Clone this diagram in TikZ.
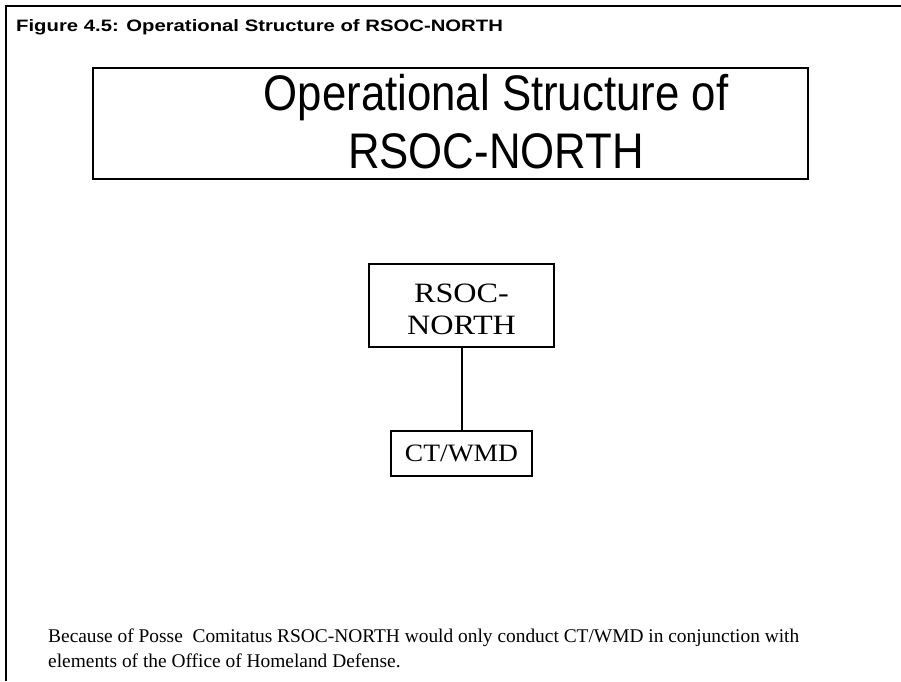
\documentclass[tikz,border=0pt]{standalone}
\usepackage{graphicx}
\usepackage{fontspec}
\setmainfont{Liberation Serif}
\newfontfamily\arialf{Liberation Sans}
\begin{document}
\begin{tikzpicture}[x=1pt,y=1pt,
  frameline/.style={line width=2pt},
  boxline/.style={draw, line width=2pt, inner sep=0pt},
  titlebox/.style={draw, line width=2.8pt, inner sep=0pt},
  conn/.style={line width=2pt}]
\useasboundingbox (0,0) rectangle (901,-681);
\fill[white] (0,0) rectangle (901,-681);
% outer frame (top and left edges only)
\coordinate (ftr) at (901,-6);
\coordinate (ftl) at (6,-6);
\coordinate (fbl) at (6,-681);
\draw[frameline] (ftr) -- (ftl) -- (fbl);
% caption
\node[anchor=base west, inner sep=0pt, font=\arialf\bfseries\fontsize{16.5}{19}\selectfont] (cap) at (16,-31) {\scalebox{1.23}[1]{Figure 4.5: Operational Structure of RSOC-NORTH}};
% title box
\node[titlebox, minimum width=715, minimum height=111] (title) at (450.5,-123.5) {};
\node[inner sep=0pt, align=center, font=\arialf\fontsize{50}{58}\selectfont, anchor=base] (titletext) at (496,-168) {\scalebox{0.875}[1]{Operational Structure of}\\\scalebox{0.875}[1]{RSOC-NORTH}};
% RSOC-NORTH box
\node[boxline, minimum width=185, minimum height=83, align=center, font=\fontsize{28}{32}\selectfont] (rsoc) at (461.5,-305.5) {\rule{0pt}{27pt}\scalebox{1.15}[1]{RSOC-}\\\scalebox{1.15}[1]{NORTH}};
% CT/WMD box
\node[boxline, minimum width=141, minimum height=45, font=\fontsize{25}{30}\selectfont] (ct) at (461.5,-453.5) {\scalebox{1.1}[1]{CT/WMD}};
\draw[conn] (rsoc.south) -- (ct.north);
% bottom note
\node[anchor=base west, inner sep=0pt, align=left, font=\fontsize{19.4}{25}\selectfont] (note) at (48,-667) {Because of Posse\ \ Comitatus RSOC-NORTH would only conduct CT/WMD in conjunction with\\elements of the Office of Homeland Defense.};
\end{tikzpicture}
\end{document}
